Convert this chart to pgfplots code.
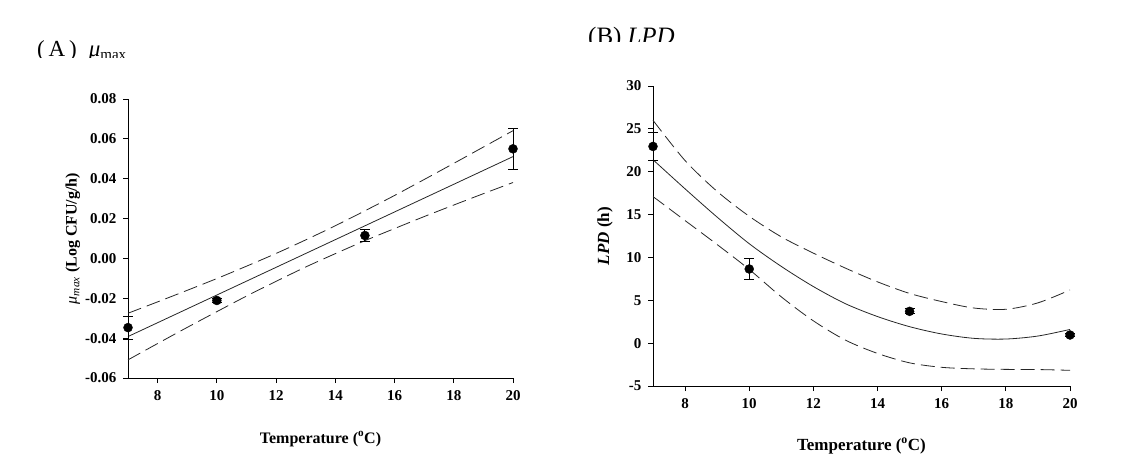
\documentclass[border=0pt]{standalone}
\usepackage{fontspec}
\setmainfont{Liberation Serif}
\usepackage{pgfplots}
\pgfplotsset{compat=1.18}
\begin{document}
\begin{tikzpicture}
\path[use as bounding box] (0pt,0pt) rectangle (1124pt,-473pt);
\pgfplotsset{
  panel/.style={
    scale only axis, axis lines*=left,
    axis line style={-, line width=0.9pt},
    tick align=outside, tick pos=left, major tick length=5pt,
    every tick/.style={black, line width=0.9pt},
    xmin=7, xmax=20, xtick={8,10,12,14,16,18,20},
    clip=false, scaled y ticks=false, scaled x ticks=false,
    tick label style={font=\fontsize{15}{17}\selectfont\bfseries},
    /pgf/number format/assume math mode=true,
    label style={font=\fontsize{17}{19}\selectfont\bfseries},
    yticklabel style={xshift=-3pt},
    xticklabel style={yshift=-4pt},
  },
  fitl/.style={black!85, line width=0.8pt, smooth, no marks},
  band/.style={black!85, line width=0.8pt, smooth, no marks, dash pattern=on 14pt off 6pt},
  pts/.style={black, only marks, mark=*, mark size=4.5pt,
    error bars/.cd, y dir=both, y explicit,
    error bar style={line width=0.9pt},
    error mark options={rotate=90, mark size=5pt, line width=0.9pt}},
}
% ---------- Panel A ----------
\begin{axis}[panel, at={(128pt,-378pt)}, anchor=south west,
  width=385pt, height=279pt,
  ymin=-0.06, ymax=0.08,
  ytick={-0.06,-0.04,-0.02,0,0.02,0.04,0.06,0.08},
  yticklabels={-0.06,-0.04,-0.02,0.00,0.02,0.04,0.06,0.08},
  xlabel={Temperature (\textsuperscript{o}C)},
  ylabel={{\mdseries\itshape μ\textsubscript{max}} (Log CFU/g/h)},
  xlabel style={at={(axis description cs:0.5,-0.219)}, anchor=center, font=\fontsize{16}{18}\selectfont\bfseries},
  ylabel style={at={(axis description cs:-0.143,0.5)}, anchor=center, font=\fontsize{16}{18}\selectfont\bfseries},
]
\addplot[fitl] coordinates {(7,-0.0392) (20,0.0511)};
\addplot[band] coordinates {(7,-0.0275) (8,-0.0218) (9,-0.0160) (10,-0.0101) (11,-0.0039) (12,0.0025) (13,0.0093) (14,0.0164) (15,0.0239) (16,0.0316) (17,0.0396) (18,0.0477) (19,0.0559) (20,0.0641)};
\addplot[band] coordinates {(7,-0.0509) (8,-0.0427) (9,-0.0346) (10,-0.0267) (11,-0.0189) (12,-0.0115) (13,-0.0043) (14,0.0024) (15,0.0089) (16,0.0150) (17,0.0210) (18,0.0268) (19,0.0325) (20,0.0381)};
\addplot[pts] coordinates {(7,-0.0347) +- (0,0.0058) (10,-0.0211) +- (0,0.0010) (15,0.0115) +- (0,0.0030) (20,0.0550) +- (0,0.0103)};
\end{axis}
% ---------- Panel B ----------
\begin{axis}[panel, at={(653pt,-386pt)}, anchor=south west,
  width=417pt, height=300pt,
  ymin=-5, ymax=30,
  ytick={-5,0,5,10,15,20,25,30},
  xlabel={Temperature (\textsuperscript{o}C)},
  ylabel={\textit{LPD} (h)},
  xlabel style={at={(axis description cs:0.5,-0.2)}, anchor=center},
  ylabel style={at={(axis description cs:-0.115,0.5)}, anchor=center},
]
\addplot[fitl] coordinates {(7,21.4) (8,18.0) (9,14.7) (10,11.6) (11,8.95) (12,6.6) (13,4.6) (14,3.1) (15,1.92) (16,1.07) (17,0.56) (18,0.48) (19,0.83) (20,1.6)};
\addplot[band] coordinates {(7,26.0) (8,21.3) (9,17.7) (10,14.8) (11,12.4) (12,10.5) (13,8.75) (14,7.15) (15,5.8) (16,4.85) (17,4.1) (18,3.95) (19,4.7) (20,6.2)};
\addplot[band] coordinates {(7,17.1) (8,14.3) (9,11.5) (10,8.6) (11,5.4) (12,2.6) (13,0.35) (14,-1.2) (15,-2.3) (16,-2.82) (17,-3.0) (18,-3.06) (19,-3.08) (20,-3.17)};
\addplot[pts] coordinates {(7,22.95) +- (0,1.65) (10,8.65) +- (0,1.25) (15,3.71) +- (0,0.3) (20,0.95) +- (0,0.2)};
\end{axis}
% ---------- Titles ----------
\begin{scope}
\clip (0pt,0pt) rectangle (560pt,-58pt);
\node[anchor=base west, inner sep=0pt, font=\fontsize{23}{25}\selectfont] at (37pt,-57pt) {(\,A\,)\hspace{12pt}{\itshape μ}\raisebox{-3pt}{\fontsize{15}{15}\selectfont max}};
\end{scope}
\begin{scope}
\clip (560pt,0pt) rectangle (1124pt,-42pt);
\node[anchor=base west, inner sep=0pt, font=\fontsize{25}{27}\selectfont] at (588pt,-45pt) {(B)\hspace{6pt}\textit{LPD}};
\end{scope}
\end{tikzpicture}
\end{document}
